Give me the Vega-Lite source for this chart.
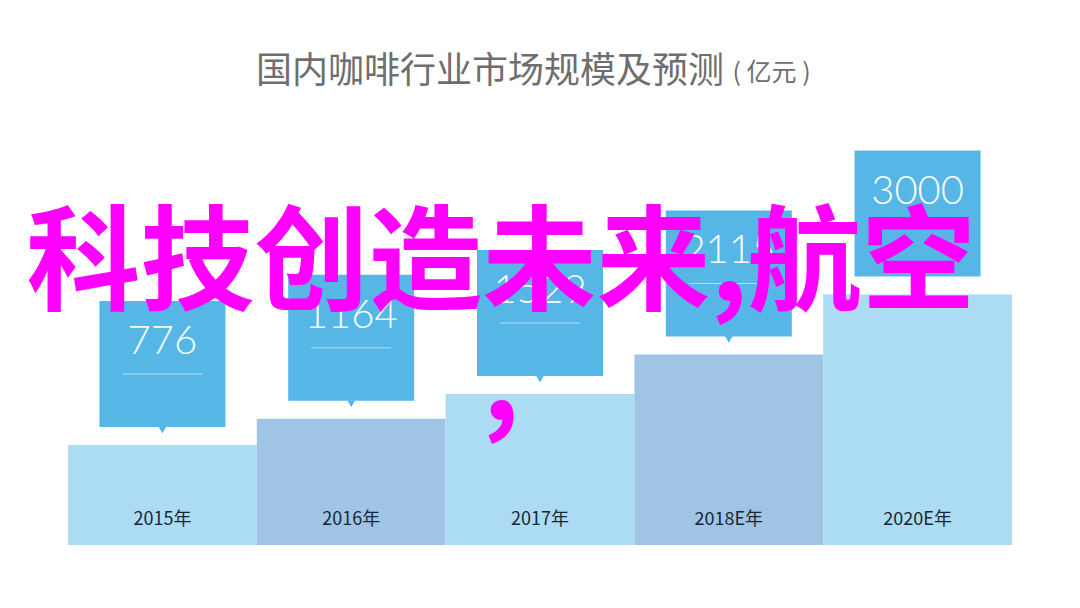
{
  "$schema": "https://vega.github.io/schema/vega-lite/v6.json",
  "autosize": {"type": "none"},
  "width": 944,
  "height": 425,
  "padding": {"left": 68, "top": 120, "right": 68, "bottom": 63},
  "background": "#ffffff",
  "config": {"view": {"stroke": null}},
  "title": {
    "text": "国内咖啡行业市场规模及预测",
    "font": "Noto Sans CJK SC",
    "fontSize": 36,
    "fontWeight": "normal",
    "color": "#6e6e6e",
    "anchor": "middle",
    "dx": -50,
    "offset": -59,
    "baseline": "alphabetic"
  },
  "data": {
    "values": [
      {"year": "2015年", "value": 776},
      {"year": "2016年", "value": 1164},
      {"year": "2017年", "value": 1529},
      {"year": "2018E年", "value": 2115},
      {"year": "2020E年", "value": 3000}
    ]
  },
  "encoding": {
    "x": {
      "field": "year",
      "type": "nominal",
      "sort": null,
      "scale": {"paddingInner": 0, "paddingOuter": 0},
      "axis": {
        "title": null,
        "orient": "bottom",
        "domain": false,
        "ticks": false,
        "tickSize": 0,
        "labelAngle": 0,
        "labelPadding": -26,
        "labelBaseline": "middle",
        "labelFont": "Noto Sans CJK SC",
        "labelFontSize": 18,
        "labelColor": "#1b2736",
        "zindex": 1
      }
    },
    "y": {
      "field": "value",
      "type": "quantitative",
      "scale": {"domain": [-702, 5580], "zero": false, "nice": false},
      "axis": {
        "title": "( 亿元 )",
        "titleAngle": 0,
        "titleX": 664,
        "titleY": -40,
        "titleAlign": "left",
        "titleBaseline": "alphabetic",
        "titleFont": "Noto Sans CJK SC",
        "titleFontSize": 25,
        "titleFontWeight": "normal",
        "titleColor": "#6e6e6e",
        "labels": false,
        "ticks": false,
        "domain": false,
        "grid": false
      }
    }
  },
  "layer": [
    {
      "mark": {"type": "bar"},
      "encoding": {
        "y2": {"datum": -702},
        "color": {
          "field": "year",
          "type": "nominal",
          "sort": null,
          "scale": {"range": ["#acdcf4", "#9fc4e6", "#acdcf4", "#9fc4e6", "#acdcf4"]},
          "legend": null
        }
      }
    },
    {
      "mark": {"type": "bar", "width": 126, "color": "#56b7e7", "yOffset": -18, "y2Offset": -144},
      "encoding": {
        "y2": {"field": "value"}
      }
    },
    {
      "mark": {"type": "point", "shape": "triangle-down", "filled": true, "size": 60, "opacity": 1, "color": "#56b7e7", "yOffset": -15},
      "encoding": {}
    },
    {
      "mark": {"type": "tick", "size": 80, "thickness": 1, "color": "#ffffff", "opacity": 0.55, "yOffset": -71},
      "encoding": {}
    },
    {
      "mark": {"type": "text", "font": "Lato", "fontWeight": 300, "fontSize": 40, "color": "#f7fcff", "baseline": "middle", "yOffset": -103},
      "encoding": {
        "text": {"field": "value", "type": "quantitative", "format": "d"}
      }
    },
    {
      "transform": [{"filter": "datum.year == '2017年'"}],
      "mark": {"type": "text", "font": "Noto Sans CJK SC", "fontWeight": "bold", "fontSize": 114, "color": "#ff00ff", "align": "center", "baseline": "alphabetic", "xOffset": -39},
      "encoding": {
        "y": {"datum": 2900},
        "text": {"value": "科技创造未来,航空"}
      }
    },
    {
      "transform": [{"filter": "datum.year == '2017年'"}],
      "mark": {"type": "text", "font": "Noto Sans CJK SC", "fontWeight": "bold", "fontSize": 114, "color": "#ff00ff", "align": "center", "baseline": "alphabetic", "xOffset": -39},
      "encoding": {
        "y": {"datum": 1145},
        "text": {"value": ","}
      }
    }
  ]
}
